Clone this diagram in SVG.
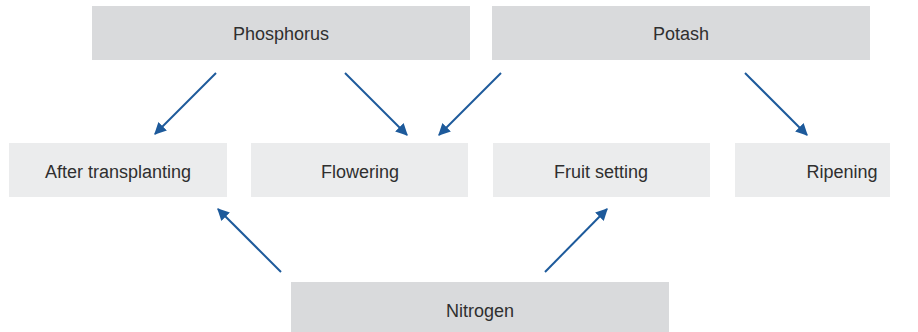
<svg xmlns="http://www.w3.org/2000/svg" width="918" height="332" viewBox="0 0 918 332">
<style>
.top{fill:#d9dadc}
.mid{fill:#ebeced}
text{font-family:"Liberation Sans",Arial,sans-serif;font-size:18px;fill:#2f2f2f;text-anchor:middle;dominant-baseline:central}
.arr{stroke:#1d5a9b;stroke-width:2;fill:none;marker-end:url(#ah)}
</style>
<defs>
<marker id="ah" viewBox="0 0 10 10" refX="9" refY="5" markerWidth="6" markerHeight="6" markerUnits="strokeWidth" orient="auto">
<path d="M0,0 L10,5 L0,10 z" fill="#1d5a9b"/>
</marker>
</defs>
<rect width="918" height="332" fill="#ffffff"/>
<g id="phosphorus"><rect class="top" x="92" y="6" width="378" height="54"/><text x="281" y="34">Phosphorus</text></g>
<g id="potash"><rect class="top" x="492" y="6" width="378" height="54"/><text x="681" y="34">Potash</text></g>
<g id="after-transplanting"><rect class="mid" x="9" y="143" width="218" height="54"/><text x="118" y="172">After transplanting</text></g>
<g id="flowering"><rect class="mid" x="251" y="143" width="217" height="54"/><text x="360" y="172">Flowering</text></g>
<g id="fruit-setting"><rect class="mid" x="493" y="143" width="217" height="54"/><text x="601" y="172">Fruit setting</text></g>
<g id="ripening"><rect class="mid" x="735" y="143" width="155" height="54"/><text x="842" y="172">Ripening</text></g>
<g id="nitrogen"><rect class="top" x="291" y="282" width="378" height="54"/><text x="480" y="311">Nitrogen</text></g>
<g id="connectors">
<line class="arr" x1="216" y1="73" x2="155" y2="134"/>
<line class="arr" x1="345" y1="73" x2="407" y2="135"/>
<line class="arr" x1="501" y1="73" x2="439" y2="135"/>
<line class="arr" x1="745" y1="73" x2="807" y2="135"/>
<line class="arr" x1="281" y1="272" x2="218" y2="209"/>
<line class="arr" x1="545" y1="272" x2="607" y2="209"/>
</g>
</svg>
